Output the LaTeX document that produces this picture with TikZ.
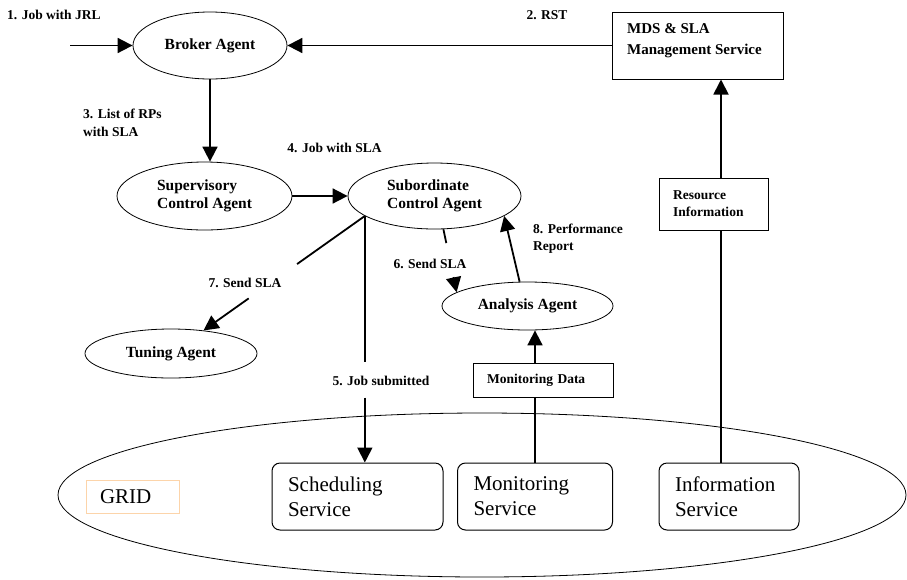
\documentclass[tikz,border=0pt]{standalone}
\usepackage{fontspec}
\setmainfont{Liberation Serif}
\usetikzlibrary{shapes.geometric,arrows.meta}
\definecolor{gridorange}{RGB}{252,212,170}
\begin{document}
\begin{tikzpicture}[x=1pt,y=-1pt,
  agent/.style={draw, ellipse, line width=0.8pt, inner sep=0pt, align=left,
                font=\bfseries\fontsize{15.5}{18}\selectfont},
  flow/.style={line width=1.8pt, -{Triangle[length=15pt,width=15pt]}},
  link/.style={line width=1.8pt},
  lbl/.style={font=\bfseries\fontsize{13.5}{18}\selectfont, align=left, inner sep=0pt},
  infobox/.style={draw, line width=1pt, align=left, inner xsep=14pt, inner ysep=0pt,
                  font=\bfseries\fontsize{13.5}{17}\selectfont},
  service/.style={draw, fill=white, rounded corners=8pt, line width=1pt, align=left,
                  inner xsep=16pt, inner ysep=0pt, minimum height=67pt,
                  font=\fontsize{21}{25}\selectfont},
]
\useasboundingbox (0,0) rectangle (907,579);

% grid boundary and its services
\node[draw, ellipse, line width=0.8pt, minimum width=848pt, minimum height=164pt] (grid) at (482,495) {};
\node[draw=gridorange, line width=0.8pt, align=left, text width=65pt, inner xsep=14pt,
      minimum height=33pt, font=\fontsize{21}{25}\selectfont] (gridlbl) at (132.5,496.5) {GRID};
\node[service, text width=139pt] (sched) at (357.5,496.5) {Scheduling\\Service};
\node[service, text width=123pt] (mon) at (535,496.5) {Monitoring\\Service};
\node[service, text width=108pt] (info) at (729,496.5) {Information\\Service};

% agents
\node[agent, minimum width=154pt, minimum height=67pt] (broker) at (210,45.5) {Broker Agent};
\node[agent, minimum width=175pt, minimum height=68pt] (sup) at (204.5,196) {Supervisory\\Control Agent};
\node[agent, minimum width=173pt, minimum height=66pt] (sub) at (434.5,196) {Subordinate\\Control Agent};
\node[agent, minimum width=171pt, minimum height=48pt] (ana) at (527.5,306) {Analysis Agent};
\node[agent, minimum width=172pt, minimum height=49pt] (tune) at (171,353.5) {Tuning Agent};

% service boxes
\node[draw, line width=1pt, minimum width=171pt, minimum height=67pt] (mds) at (697.5,45.5) {};
\node[anchor=north west, inner sep=0pt, align=left, font=\bfseries\fontsize{15}{21}\selectfont]
  (mdstext) at (627,23) {MDS \& SLA\\Management Service};
\node[infobox, text width=81pt, minimum height=52pt] (res) at (713.5,204) {Resource\\Information};
\node[infobox, text width=112pt, minimum height=34pt] (mdata) at (543,380) {Monitoring Data};

% connectors
\coordinate (jobin) at (70,45.5);
\draw[flow] (jobin) -- (broker);
\draw[flow] (mds) -- (broker);
\draw[flow] (broker.south) -- (broker.south |- sup.north);
\draw[flow] (sup) -- (sub);

\path (sub.196) -- (sub.196 |- sched.north)
  coordinate[pos=0.592] (g5a) coordinate[pos=0.737] (g5b);
\draw[link] (sub.196) -- (g5a);
\draw[flow] (g5b) -- (sub.196 |- sched.north);

\path (sub.285) -- (ana.169) coordinate[pos=0.22] (g6a) coordinate[pos=0.76] (g6b);
\draw[link] (sub.285) -- (g6a);
\draw[flow] (g6b) -- (ana.169);

\path (sub.196) -- (tune) coordinate[pos=0.42] (g7a) coordinate[pos=0.72] (g7b);
\draw[link] (sub.196) -- (g7a);
\draw[flow] (g7b) -- (tune);

\draw[flow] (ana.108) -- (sub.344);

\draw[link] (mon.north) -- (mon.north |- mdata.south);
\draw[flow] (mon.north |- mdata.north) -- (mon.north |- ana.south);

\draw[link] ([xshift=-8pt]info.north) -- ([xshift=-8pt]info.north |- res.south);
\draw[flow] ([xshift=7.5pt]res.north) -- ([xshift=7.5pt]res.north |- mds.south);

% connector labels
\node[lbl, anchor=west] (l1) at (7,15) {1. Job with JRL};
\node[lbl] (l2) at (547,15) {2. RST};
\node[lbl, anchor=west] (l3) at (83,122.5) {3. List of RPs\\with SLA};
\node[lbl] (l4) at (334.5,148) {4. Job with SLA};
\node[lbl] (l5) at (381,381) {5. Job submitted};
\node[lbl] (l6) at (430,264) {6. Send SLA};
\node[lbl] (l7) at (245,283) {7. Send SLA};
\node[lbl, anchor=west, font=\bfseries\fontsize{13.5}{17}\selectfont] (l8) at (533,238.5) {8. Performance\\Report};
\end{tikzpicture}
\end{document}
